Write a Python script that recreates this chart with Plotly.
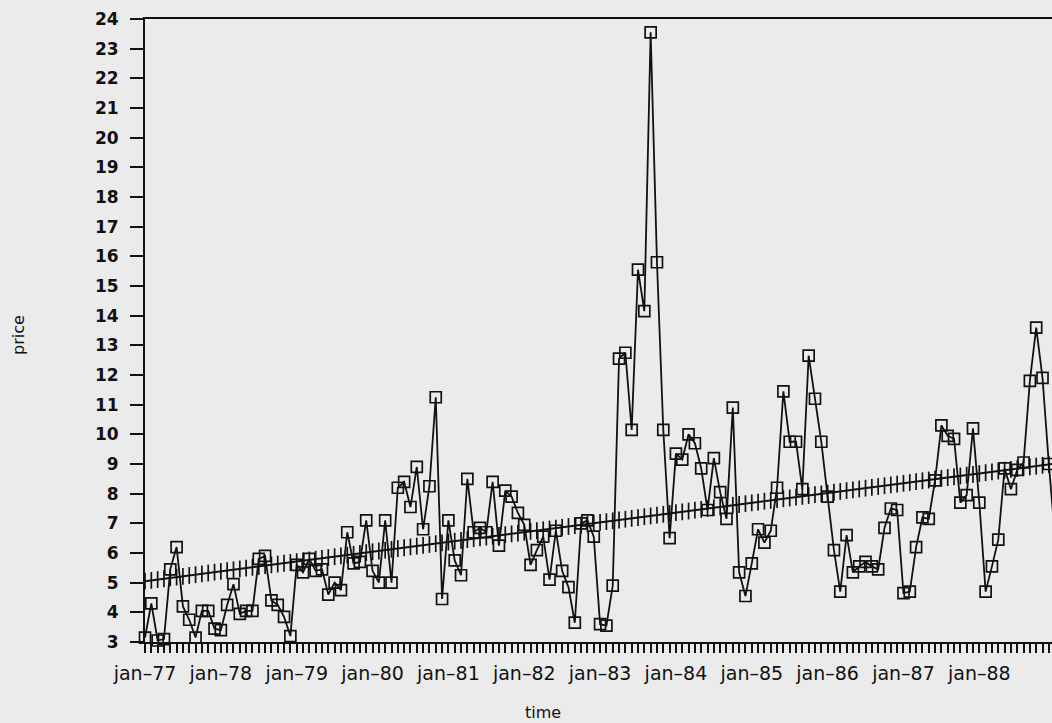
import plotly.graph_objects as go

# Monthly price series, January 1977 onwards (index 0 = jan-77)
price = [
    3.15, 4.3, 3.05, 3.1, 5.45, 6.2, 4.2, 3.75, 3.15, 4.05, 4.05, 3.45,      # 1977
    3.4, 4.25, 4.95, 3.95, 4.05, 4.05, 5.8, 5.9, 4.4, 4.25, 3.85, 3.2,       # 1978
    5.6, 5.35, 5.8, 5.4, 5.45, 4.6, 5.0, 4.75, 6.7, 5.65, 5.7, 7.1,          # 1979
    5.4, 5.0, 7.1, 5.0, 8.2, 8.4, 7.55, 8.9, 6.8, 8.25, 11.25, 4.45,         # 1980
    7.1, 5.75, 5.25, 8.5, 6.7, 6.85, 6.7, 8.4, 6.25, 8.1, 7.9, 7.35,         # 1981
    6.95, 5.6, 6.1, 6.55, 5.1, 6.75, 5.4, 4.85, 3.65, 7.0, 7.1, 6.55,        # 1982
    3.6, 3.55, 4.9, 12.55, 12.75, 10.15, 15.55, 14.15, 23.55, 15.8, 10.15, 6.5,  # 1983
    9.35, 9.15, 10.0, 9.7, 8.85, 7.45, 9.2, 8.05, 7.15, 10.9, 5.35, 4.55,    # 1984
    5.65, 6.8, 6.35, 6.75, 8.2, 11.45, 9.75, 9.75, 8.15, 12.65, 11.2, 9.75,  # 1985
    7.9, 6.1, 4.7, 6.6, 5.35, 5.55, 5.7, 5.55, 5.45, 6.85, 7.5, 7.45,        # 1986
    4.65, 4.7, 6.2, 7.2, 7.15, 8.45, 10.3, 9.95, 9.85, 7.7, 7.95, 10.2,      # 1987
    7.7, 4.7, 5.55, 6.45, 8.85, 8.15, 8.8, 9.05, 11.8, 13.6, 11.9, 9.0,      # 1988
    6.5,                                                                     # 1989
]

# Linear trend of price over time (value at jan-77 and change per month)
trend_intercept = 5.05
trend_slope = 0.0275

years = list(range(77, 89))
tick_months = [12 * k for k in range(len(years))]
tick_labels = [f"jan\u2013{y}" for y in years]

months = list(range(len(price)))
trend = [trend_intercept + trend_slope * m for m in months]

INK = "#111111"
PAPER = "#ebebeb"

fig = go.Figure()

fig.add_trace(go.Scatter(
    x=months, y=trend,
    mode="lines+markers",
    line=dict(color=INK, width=2),
    marker=dict(symbol="line-ns", size=12, color=INK,
                line=dict(color=INK, width=1.7)),
    cliponaxis=False,
    hoverinfo="skip",
))

fig.add_trace(go.Scatter(
    x=months, y=price,
    mode="lines+markers",
    line=dict(color=INK, width=1.8),
    marker=dict(symbol="square-open", size=11, color=INK,
                line=dict(color=INK, width=1.7)),
    cliponaxis=False,
))

fig.update_layout(
    width=1052, height=723,
    margin=dict(l=145, r=0, t=19, b=81),
    paper_bgcolor=PAPER, plot_bgcolor=PAPER,
    showlegend=False,
    font=dict(family="DejaVu Sans", color=INK),
)

fig.update_xaxes(
    range=[0, 143.5],
    showline=True, linecolor=INK, linewidth=2, mirror=True,
    showgrid=False, zeroline=False,
    tickmode="array", tickvals=tick_months, ticktext=tick_labels,
    ticks="outside", ticklen=9, tickwidth=1.5, tickcolor=INK,
    ticklabelstandoff=4,
    tickfont=dict(family="DejaVu Sans", size=19, color=INK),
    minor=dict(tick0=0, dtick=1, ticks="outside", ticklen=9,
               tickwidth=1.5, tickcolor=INK, showgrid=False),
)

fig.update_yaxes(
    range=[3, 24], tick0=3, dtick=1,
    showline=True, linecolor=INK, linewidth=2,
    showgrid=False, zeroline=False,
    ticks="outside", ticklen=13, tickwidth=2, tickcolor=INK,
    ticklabelstandoff=8,
    tickfont=dict(family="DejaVu Sans", size=17, color=INK, weight="bold"),
)

fig.add_annotation(
    text="price", textangle=-90,
    xref="paper", yref="paper",
    x=(18 - 145) / 907, y=(642 - 335) / 623,
    showarrow=False, xanchor="center", yanchor="middle",
    font=dict(family="DejaVu Sans", size=16, color=INK),
)
fig.add_annotation(
    text="time",
    xref="paper", yref="paper",
    x=(543 - 145) / 907, y=-(712 - 642) / 623,
    showarrow=False, xanchor="center", yanchor="middle",
    font=dict(family="DejaVu Sans", size=16, color=INK),
)

fig.write_html("out.html")
